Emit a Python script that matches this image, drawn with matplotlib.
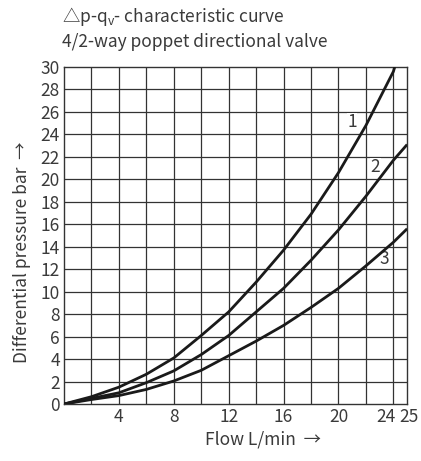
import matplotlib
matplotlib.use('Agg')
from matplotlib import pyplot as plt
from matplotlib.transforms import ScaledTranslation

plt.rcParams['font.family'] = ['Noto Sans CJK SC', 'DejaVu Sans']
plt.rcParams['font.weight'] = 'light'
plt.rcParams['mathtext.fontset'] = 'custom'
plt.rcParams['mathtext.rm'] = 'Noto Sans CJK SC:light'

# flow (L/min) and differential pressure (bar)
flow_1 = [0, 2, 4, 6, 8, 10, 12, 14, 16, 18, 20, 22, 24, 24.1]
dp_1 = [0, 0.65, 1.5, 2.65, 4.1, 6.1, 8.2, 10.85, 13.7, 16.9, 20.6, 24.8, 29.6, 30]

flow_2 = [0, 2, 4, 6, 8, 10, 12, 14, 16, 18, 20, 22, 24, 25]
dp_2 = [0, 0.5, 1.0, 1.9, 2.95, 4.4, 6.1, 8.2, 10.3, 12.8, 15.5, 18.5, 21.7, 23.1]

flow_3 = [0, 2, 4, 6, 8, 10, 12, 14, 16, 18, 20, 22, 24, 25]
dp_3 = [0, 0.4, 0.75, 1.3, 2.05, 3.0, 4.3, 5.6, 7.0, 8.6, 10.3, 12.3, 14.4, 15.6]

curve_labels = ['1', '2', '3']
label_pos = [(21.0, 25.1), (22.7, 21.1), (23.3, 12.9)]

x_ticks = [4, 8, 12, 16, 20, 24, 25]
y_ticks = list(range(0, 31, 2))

txt = '#3a3a3a'
fs = 12.5

fig = plt.figure(figsize=(4.21, 4.61), dpi=100)
ax = fig.add_axes([0.152, 0.1236, 0.815, 0.731])

# grid every 2 units
for gx in range(2, 25, 2):
    ax.axvline(gx, color='#333333', lw=0.9, zorder=1)
for gy in range(2, 30, 2):
    ax.axhline(gy, color='#333333', lw=0.9, zorder=1)

for q, p in [(flow_1, dp_1), (flow_2, dp_2), (flow_3, dp_3)]:
    ax.plot(q, p, color='#1a1a1a', lw=2.0, zorder=3, solid_capstyle='butt')

for lab, (lx, ly) in zip(curve_labels, label_pos):
    ax.text(lx, ly, lab, fontsize=fs, ha='center', va='center', color=txt,
            bbox=dict(facecolor='white', edgecolor='none', pad=0.3), zorder=2)

ax.set_xlim(0, 25)
ax.set_ylim(0, 30)
ax.set_xticks(x_ticks)
ax.set_yticks(y_ticks)
ax.tick_params(length=0, labelsize=fs, colors=txt, pad=3)
for s in ax.spines.values():
    s.set_color('#333333')
    s.set_linewidth(1.0)

# nudge the crowded 24 / 25 labels apart
xl = ax.get_xticklabels()
xl[-2].set_transform(xl[-2].get_transform() + ScaledTranslation(-0.075, 0, fig.dpi_scale_trans))
xl[-1].set_transform(xl[-1].get_transform() + ScaledTranslation(0.015, 0, fig.dpi_scale_trans))

fig.text(0.625, 0.046, 'Flow L/min  →', fontsize=fs, color=txt, ha='center', va='center')
ax.text(-0.122, 0.45, 'Differential pressure bar  →', rotation=90, fontsize=fs,
        color=txt, ha='center', va='center', transform=ax.transAxes)

fig.text(0.147, 0.965, '△p-q$_\\mathregular{v}$- characteristic curve', fontsize=fs,
         color=txt, ha='left', va='center')
fig.text(0.147, 0.909, '4/2-way poppet directional valve', fontsize=fs,
         color=txt, ha='left', va='center')

fig.savefig('out.png', dpi=100)
